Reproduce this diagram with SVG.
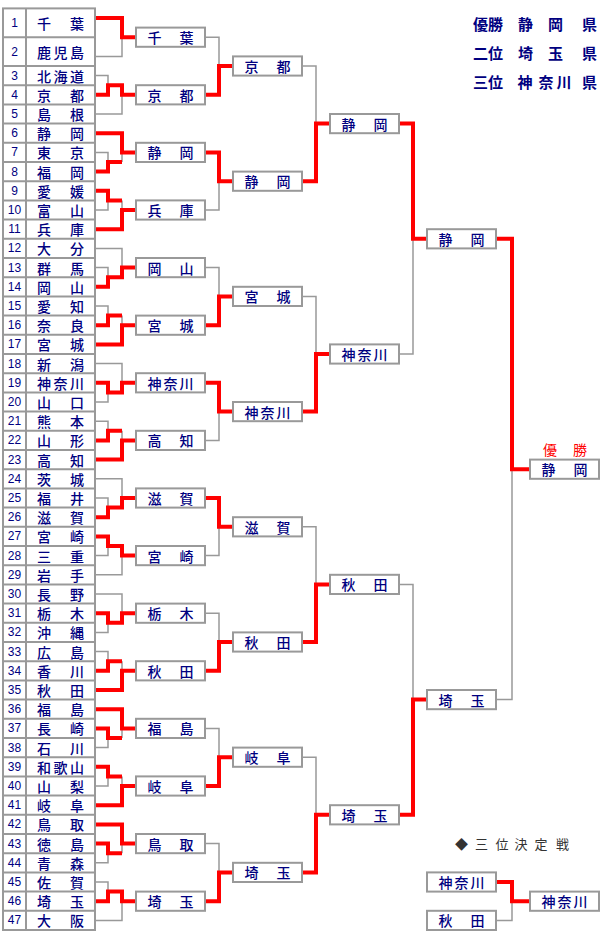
<svg xmlns="http://www.w3.org/2000/svg" width="600" height="940" viewBox="0 0 600 940">
<style>
.bg{fill:#fff}
.tb{fill:none;stroke:#999;stroke-width:2}
.bx{fill:#fff;stroke:#999;stroke-width:2}
.g{fill:none;stroke:#999;stroke-width:1.5}
.r{fill:none;stroke:#f00;stroke-width:4;stroke-linejoin:miter}
.n{font-family:"Liberation Sans",Arial,sans-serif;font-size:12px;fill:#000080;text-anchor:middle;dominant-baseline:central}
.t{font-family:"Noto Sans CJK JP",sans-serif;font-size:14px;fill:#000080;text-anchor:middle;dominant-baseline:central;font-weight:500}
.lg{font-family:"Noto Sans CJK JP",sans-serif;font-size:15px;fill:#000080;font-weight:bold;dominant-baseline:central}
.win{font-family:"Noto Sans CJK JP",sans-serif;font-size:14px;fill:#f00;text-anchor:middle;dominant-baseline:central}
.ti{font-family:"Noto Sans CJK JP",sans-serif;font-size:13px;fill:#333;text-anchor:middle;dominant-baseline:central}
</style>
<rect class="bg" x="0" y="0" width="600" height="940"/>

<g id="legend">
<text class="lg" y="23.3"><tspan x="473">優勝</tspan><tspan x="518">静</tspan><tspan x="548">岡</tspan><tspan x="582">県</tspan></text>
<text class="lg" y="52"><tspan x="473">二位</tspan><tspan x="518">埼</tspan><tspan x="548">玉</tspan><tspan x="582">県</tspan></text>
<text class="lg" y="80.5"><tspan x="473">三位</tspan><tspan x="517.5">神</tspan><tspan x="538.5">奈</tspan><tspan x="556.5">川</tspan><tspan x="582">県</tspan></text>
</g>

<g id="table">
<rect class="tb" x="3" y="8.4" width="92" height="921.6"/>
<path class="tb" d="M26,8.4V930 M3,37.2H95 M3,66H95 M3,85.2H95 M3,104.4H95 M3,123.6H95 M3,142.8H95 M3,162H95 M3,181.2H95 M3,200.4H95 M3,219.6H95 M3,238.8H95 M3,258H95 M3,277.2H95 M3,296.4H95 M3,315.6H95 M3,334.8H95 M3,354H95 M3,373.2H95 M3,392.4H95 M3,411.6H95 M3,430.8H95 M3,450H95 M3,469.2H95 M3,488.4H95 M3,507.6H95 M3,526.8H95 M3,546H95 M3,565.2H95 M3,584.4H95 M3,603.6H95 M3,622.8H95 M3,642H95 M3,661.2H95 M3,680.4H95 M3,699.6H95 M3,718.8H95 M3,738H95 M3,757.2H95 M3,776.4H95 M3,795.6H95 M3,814.8H95 M3,834H95 M3,853.2H95 M3,872.4H95 M3,891.6H95 M3,910.8H95"/>
<text class="n" x="14.5" y="22.8">1</text><text class="t" x="44 60.5 77" y="22.8">千　葉</text>
<text class="n" x="14.5" y="51.6">2</text><text class="t" x="44 60.5 77" y="51.6">鹿児島</text>
<text class="n" x="14.5" y="75.6">3</text><text class="t" x="44 60.5 77" y="75.6">北海道</text>
<text class="n" x="14.5" y="94.8">4</text><text class="t" x="44 60.5 77" y="94.8">京　都</text>
<text class="n" x="14.5" y="114">5</text><text class="t" x="44 60.5 77" y="114">島　根</text>
<text class="n" x="14.5" y="133.2">6</text><text class="t" x="44 60.5 77" y="133.2">静　岡</text>
<text class="n" x="14.5" y="152.4">7</text><text class="t" x="44 60.5 77" y="152.4">東　京</text>
<text class="n" x="14.5" y="171.6">8</text><text class="t" x="44 60.5 77" y="171.6">福　岡</text>
<text class="n" x="14.5" y="190.8">9</text><text class="t" x="44 60.5 77" y="190.8">愛　媛</text>
<text class="n" x="14.5" y="210">10</text><text class="t" x="44 60.5 77" y="210">富　山</text>
<text class="n" x="14.5" y="229.2">11</text><text class="t" x="44 60.5 77" y="229.2">兵　庫</text>
<text class="n" x="14.5" y="248.4">12</text><text class="t" x="44 60.5 77" y="248.4">大　分</text>
<text class="n" x="14.5" y="267.6">13</text><text class="t" x="44 60.5 77" y="267.6">群　馬</text>
<text class="n" x="14.5" y="286.8">14</text><text class="t" x="44 60.5 77" y="286.8">岡　山</text>
<text class="n" x="14.5" y="306">15</text><text class="t" x="44 60.5 77" y="306">愛　知</text>
<text class="n" x="14.5" y="325.2">16</text><text class="t" x="44 60.5 77" y="325.2">奈　良</text>
<text class="n" x="14.5" y="344.4">17</text><text class="t" x="44 60.5 77" y="344.4">宮　城</text>
<text class="n" x="14.5" y="363.6">18</text><text class="t" x="44 60.5 77" y="363.6">新　潟</text>
<text class="n" x="14.5" y="382.8">19</text><text class="t" x="44 60.5 77" y="382.8">神奈川</text>
<text class="n" x="14.5" y="402">20</text><text class="t" x="44 60.5 77" y="402">山　口</text>
<text class="n" x="14.5" y="421.2">21</text><text class="t" x="44 60.5 77" y="421.2">熊　本</text>
<text class="n" x="14.5" y="440.4">22</text><text class="t" x="44 60.5 77" y="440.4">山　形</text>
<text class="n" x="14.5" y="459.6">23</text><text class="t" x="44 60.5 77" y="459.6">高　知</text>
<text class="n" x="14.5" y="478.8">24</text><text class="t" x="44 60.5 77" y="478.8">茨　城</text>
<text class="n" x="14.5" y="498">25</text><text class="t" x="44 60.5 77" y="498">福　井</text>
<text class="n" x="14.5" y="517.2">26</text><text class="t" x="44 60.5 77" y="517.2">滋　賀</text>
<text class="n" x="14.5" y="536.4">27</text><text class="t" x="44 60.5 77" y="536.4">宮　崎</text>
<text class="n" x="14.5" y="555.6">28</text><text class="t" x="44 60.5 77" y="555.6">三　重</text>
<text class="n" x="14.5" y="574.8">29</text><text class="t" x="44 60.5 77" y="574.8">岩　手</text>
<text class="n" x="14.5" y="594">30</text><text class="t" x="44 60.5 77" y="594">長　野</text>
<text class="n" x="14.5" y="613.2">31</text><text class="t" x="44 60.5 77" y="613.2">栃　木</text>
<text class="n" x="14.5" y="632.4">32</text><text class="t" x="44 60.5 77" y="632.4">沖　縄</text>
<text class="n" x="14.5" y="651.6">33</text><text class="t" x="44 60.5 77" y="651.6">広　島</text>
<text class="n" x="14.5" y="670.8">34</text><text class="t" x="44 60.5 77" y="670.8">香　川</text>
<text class="n" x="14.5" y="690">35</text><text class="t" x="44 60.5 77" y="690">秋　田</text>
<text class="n" x="14.5" y="709.2">36</text><text class="t" x="44 60.5 77" y="709.2">福　島</text>
<text class="n" x="14.5" y="728.4">37</text><text class="t" x="44 60.5 77" y="728.4">長　崎</text>
<text class="n" x="14.5" y="747.6">38</text><text class="t" x="44 60.5 77" y="747.6">石　川</text>
<text class="n" x="14.5" y="766.8">39</text><text class="t" x="44 60.5 77" y="766.8">和歌山</text>
<text class="n" x="14.5" y="786">40</text><text class="t" x="44 60.5 77" y="786">山　梨</text>
<text class="n" x="14.5" y="805.2">41</text><text class="t" x="44 60.5 77" y="805.2">岐　阜</text>
<text class="n" x="14.5" y="824.4">42</text><text class="t" x="44 60.5 77" y="824.4">鳥　取</text>
<text class="n" x="14.5" y="843.6">43</text><text class="t" x="44 60.5 77" y="843.6">徳　島</text>
<text class="n" x="14.5" y="862.8">44</text><text class="t" x="44 60.5 77" y="862.8">青　森</text>
<text class="n" x="14.5" y="882">45</text><text class="t" x="44 60.5 77" y="882">佐　賀</text>
<text class="n" x="14.5" y="901.2">46</text><text class="t" x="44 60.5 77" y="901.2">埼　玉</text>
<text class="n" x="14.5" y="920.4">47</text><text class="t" x="44 60.5 77" y="920.4">大　阪</text>
</g>

<g id="connectors">
<path class="g" d="M96,56.4H122V37.2 M96,75.6H108V85.2 M96,114H122V94.8 M96,152.4H108V162 M122,162V152.4 M96,210H108V200.4 M122,200.4V210 M96,248.4H122V267.6 M96,267.6H108V277.2 M96,306H108V315.6 M122,315.6V325.2 M96,363.6H122V382.8 M96,402H108V392.4 M96,421.2H108V430.8 M122,430.8V440.4 M96,478.8H122V498 M96,498H108V507.6 M96,555.6H108V546 M96,574.8H122V555.6 M96,594H122V613.2 M96,632.4H108V622.8 M96,651.6H108V661.2 M122,661.2V670.8 M96,747.6H108V738 M122,738V728.4 M96,786H108V776.4 M122,776.4V786 M96,862.8H108V853.2 M122,853.2V843.6 M96,882H108V891.6 M96,920.4H122V901.2"/>
<path class="g" d="M205,37.2H219V66 M205,210H219V181.2 M205,267.6H219V296.4 M205,440.4H219V411.6 M205,555.6H219V526.8 M205,613.2H219V642 M205,728.4H219V757.2 M205,843.6H219V872.4"/>
<path class="g" d="M302,66H316V123.6 M302,296.4H316V354 M302,526.8H316V584.4 M302,757.2H316V814.8"/>
<path class="g" d="M399,354H413V238.8 M399,584.4H413V699.6 M496,699.6H512V469.2 M496,920.4H512V901.2"/>
<path class="r" d="M96,18H122V37.2H136 M96,94.8H108V85.2H122V94.8H136 M96,133.2H122V152.4H136 M96,171.6H108V162H122 M96,190.8H108V200.4H122 M96,229.2H122V210H136 M96,286.8H108V277.2H122V267.6H136 M96,325.2H108V315.6H122 M96,344.4H122V325.2H136 M96,382.8H108V392.4H122V382.8H136 M96,440.4H108V430.8H122 M96,459.6H122V440.4H136 M96,517.2H108V507.6H122V498H136 M96,536.4H108V546H122V555.6H136 M96,613.2H108V622.8H122V613.2H136 M96,670.8H108V661.2H122 M96,690H122V670.8H136 M96,709.2H122V728.4H136 M96,728.4H108V738H122 M96,766.8H108V776.4H122 M96,805.2H122V786H136 M96,824.4H122V843.6H136 M96,843.6H108V853.2H122 M96,901.2H108V891.6H122V901.2H136"/>
<path class="r" d="M205,94.8H219V66H233 M205,152.4H219V181.2H233 M205,325.2H219V296.4H233 M205,382.8H219V411.6H233 M205,498H219V526.8H233 M205,670.8H219V642H233 M205,786H219V757.2H233 M205,901.2H219V872.4H233"/>
<path class="r" d="M302,181.2H316V123.6H330 M302,411.6H316V354H330 M302,642H316V584.4H330 M302,872.4H316V814.8H330"/>
<path class="r" d="M399,123.6H413V238.8H427 M399,814.8H413V699.6H427 M496,238.8H512V469.2H530 M496,882H512V901.2H530"/>
</g>

<g id="r1-chiba"><rect class="bx" x="136" y="27.6" width="69" height="19.2"/><text class="t" x="154.5 170.5 186.5" y="37.2">千　葉</text></g>
<g id="r1-kyoto"><rect class="bx" x="136" y="85.2" width="69" height="19.2"/><text class="t" x="154.5 170.5 186.5" y="94.8">京　都</text></g>
<g id="r1-shizuoka"><rect class="bx" x="136" y="142.8" width="69" height="19.2"/><text class="t" x="154.5 170.5 186.5" y="152.4">静　岡</text></g>
<g id="r1-hyogo"><rect class="bx" x="136" y="200.4" width="69" height="19.2"/><text class="t" x="154.5 170.5 186.5" y="210">兵　庫</text></g>
<g id="r1-okayama"><rect class="bx" x="136" y="258" width="69" height="19.2"/><text class="t" x="154.5 170.5 186.5" y="267.6">岡　山</text></g>
<g id="r1-miyagi"><rect class="bx" x="136" y="315.6" width="69" height="19.2"/><text class="t" x="154.5 170.5 186.5" y="325.2">宮　城</text></g>
<g id="r1-kanagawa"><rect class="bx" x="136" y="373.2" width="69" height="19.2"/><text class="t" x="154.5 170.5 186.5" y="382.8">神奈川</text></g>
<g id="r1-kochi"><rect class="bx" x="136" y="430.8" width="69" height="19.2"/><text class="t" x="154.5 170.5 186.5" y="440.4">高　知</text></g>
<g id="r1-shiga"><rect class="bx" x="136" y="488.4" width="69" height="19.2"/><text class="t" x="154.5 170.5 186.5" y="498">滋　賀</text></g>
<g id="r1-miyazaki"><rect class="bx" x="136" y="546" width="69" height="19.2"/><text class="t" x="154.5 170.5 186.5" y="555.6">宮　崎</text></g>
<g id="r1-tochigi"><rect class="bx" x="136" y="603.6" width="69" height="19.2"/><text class="t" x="154.5 170.5 186.5" y="613.2">栃　木</text></g>
<g id="r1-akita"><rect class="bx" x="136" y="661.2" width="69" height="19.2"/><text class="t" x="154.5 170.5 186.5" y="670.8">秋　田</text></g>
<g id="r1-fukushima"><rect class="bx" x="136" y="718.8" width="69" height="19.2"/><text class="t" x="154.5 170.5 186.5" y="728.4">福　島</text></g>
<g id="r1-gifu"><rect class="bx" x="136" y="776.4" width="69" height="19.2"/><text class="t" x="154.5 170.5 186.5" y="786">岐　阜</text></g>
<g id="r1-tottori"><rect class="bx" x="136" y="834" width="69" height="19.2"/><text class="t" x="154.5 170.5 186.5" y="843.6">鳥　取</text></g>
<g id="r1-saitama"><rect class="bx" x="136" y="891.6" width="69" height="19.2"/><text class="t" x="154.5 170.5 186.5" y="901.2">埼　玉</text></g>

<g id="r2-kyoto"><rect class="bx" x="233" y="56.4" width="69" height="19.2"/><text class="t" x="251.5 267.5 283.5" y="66">京　都</text></g>
<g id="r2-shizuoka"><rect class="bx" x="233" y="171.6" width="69" height="19.2"/><text class="t" x="251.5 267.5 283.5" y="181.2">静　岡</text></g>
<g id="r2-miyagi"><rect class="bx" x="233" y="286.8" width="69" height="19.2"/><text class="t" x="251.5 267.5 283.5" y="296.4">宮　城</text></g>
<g id="r2-kanagawa"><rect class="bx" x="233" y="402" width="69" height="19.2"/><text class="t" x="251.5 267.5 283.5" y="411.6">神奈川</text></g>
<g id="r2-shiga"><rect class="bx" x="233" y="517.2" width="69" height="19.2"/><text class="t" x="251.5 267.5 283.5" y="526.8">滋　賀</text></g>
<g id="r2-akita"><rect class="bx" x="233" y="632.4" width="69" height="19.2"/><text class="t" x="251.5 267.5 283.5" y="642">秋　田</text></g>
<g id="r2-gifu"><rect class="bx" x="233" y="747.6" width="69" height="19.2"/><text class="t" x="251.5 267.5 283.5" y="757.2">岐　阜</text></g>
<g id="r2-saitama"><rect class="bx" x="233" y="862.8" width="69" height="19.2"/><text class="t" x="251.5 267.5 283.5" y="872.4">埼　玉</text></g>

<g id="r3-shizuoka"><rect class="bx" x="330" y="114" width="69" height="19.2"/><text class="t" x="348.5 364.5 380.5" y="123.6">静　岡</text></g>
<g id="r3-kanagawa"><rect class="bx" x="330" y="344.4" width="69" height="19.2"/><text class="t" x="348.5 364.5 380.5" y="354">神奈川</text></g>
<g id="r3-akita"><rect class="bx" x="330" y="574.8" width="69" height="19.2"/><text class="t" x="348.5 364.5 380.5" y="584.4">秋　田</text></g>
<g id="r3-saitama"><rect class="bx" x="330" y="805.2" width="69" height="19.2"/><text class="t" x="348.5 364.5 380.5" y="814.8">埼　玉</text></g>

<g id="r4-shizuoka"><rect class="bx" x="427" y="229.2" width="69" height="19.2"/><text class="t" x="445.5 461.5 477.5" y="238.8">静　岡</text></g>
<g id="r4-saitama"><rect class="bx" x="427" y="690" width="69" height="19.2"/><text class="t" x="445.5 461.5 477.5" y="699.6">埼　玉</text></g>

<g id="champion"><text class="win" x="550 580" y="449">優勝</text><rect class="bx" x="530" y="459.6" width="69" height="19.2"/><text class="t" x="548.5 564.5 580.5" y="469.2">静　岡</text></g>

<g id="third-title"><text class="ti" x="461.5 481.5 502 521 541 562.5" y="843">◆三位決定戦</text></g>
<g id="third-kanagawa"><rect class="bx" x="427" y="872.4" width="69" height="19.2"/><text class="t" x="445.5 461.5 477.5" y="882">神奈川</text></g>
<g id="third-akita"><rect class="bx" x="427" y="910.8" width="69" height="19.2"/><text class="t" x="445.5 461.5 477.5" y="920.4">秋　田</text></g>
<g id="third-winner"><rect class="bx" x="530" y="891.6" width="69" height="19.2"/><text class="t" x="548.5 564.5 580.5" y="901.2">神奈川</text></g>
</svg>
